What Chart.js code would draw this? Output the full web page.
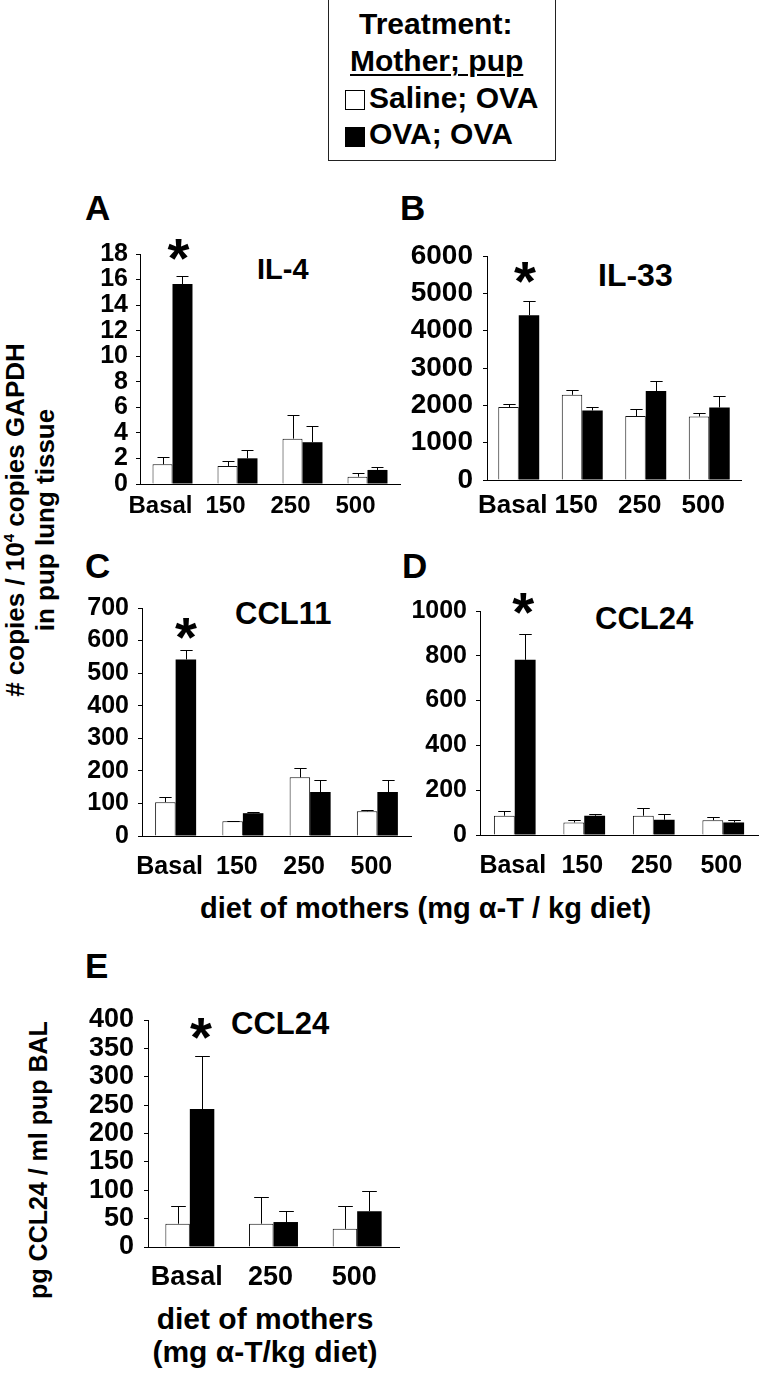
<!DOCTYPE html>
<html><head><meta charset="utf-8">
<script src="https://cdn.jsdelivr.net/npm/chart.js@4.4.1/dist/chart.umd.min.js"></script>
<style>
html,body{margin:0;padding:0;background:#fff;}
body{width:759px;height:1387px;position:relative;overflow:hidden;font-family:"Liberation Sans",Arial,sans-serif;font-weight:bold;color:#000;}
.t{position:absolute;white-space:nowrap;line-height:1;}
.rot{position:absolute;white-space:nowrap;text-align:center;transform:translate(-50%,-50%) rotate(-90deg);}
.sup{font-size:15px;position:relative;top:-10px;}
#legend{position:absolute;left:328px;top:-1px;width:228px;height:162px;border:1px solid #222;box-sizing:border-box;}
.sq{position:absolute;width:20px;height:20px;box-sizing:border-box;border:1px solid #000;}
</style></head>
<body>
<div id="legend"></div>
<div class="t" style="left:359px;top:9px;font-size:30px;">Treatment:</div>
<div class="t" style="left:350px;top:46px;font-size:30px;text-decoration:underline;text-decoration-thickness:2px;text-underline-offset:3px;">Mother; pup</div>
<div class="sq" style="left:345px;top:90px;background:#fff;"></div>
<div class="t" style="left:369px;top:83px;font-size:30px;">Saline; OVA</div>
<div class="sq" style="left:345px;top:127px;background:#000;"></div>
<div class="t" style="left:369px;top:119px;font-size:30px;">OVA; OVA</div>

<div class="t" style="left:85px;top:190px;font-size:35px;">A</div>
<div class="t" style="left:400px;top:190px;font-size:35px;">B</div>
<div class="t" style="left:85px;top:548px;font-size:35px;">C</div>
<div class="t" style="left:402px;top:548px;font-size:35px;">D</div>
<div class="t" style="left:85px;top:948px;font-size:35px;">E</div>

<div class="t" style="left:257px;top:255px;font-size:29px;">IL-4</div>
<div class="t" style="left:598px;top:259px;font-size:32px;">IL-33</div>
<div class="t" style="left:235px;top:598px;font-size:31px;">CCL11</div>
<div class="t" style="left:595px;top:603px;font-size:31px;">CCL24</div>
<div class="t" style="left:231px;top:1008px;font-size:31px;">CCL24</div>

<div class="t" style="left:200px;top:894px;font-size:29px;">diet of mothers (mg α-T / kg diet)</div>
<div class="rot" style="left:30px;top:520px;font-size:26px;line-height:27px;"># copies / 10<span class="sup">4</span> copies GAPDH<br>in pup lung tissue</div>
<div class="rot" style="left:38px;top:1160px;font-size:25px;line-height:27px;">pg CCL24 / ml pup BAL</div>
<div class="t" style="left:265px;top:1304px;font-size:30px;transform:translateX(-50%);">diet of mothers</div>
<div class="t" style="left:265px;top:1337px;font-size:30px;transform:translateX(-50%);">(mg α-T/kg diet)</div>

<script>
// ---------- data ----------
const categories  = ['Basal', '150', '250', '500'];
const categoriesE = ['Basal', '250', '500'];
const seriesNames = ['Saline; OVA', 'OVA; OVA'];

// A: IL-4
const il4Saline    = [1.54, 1.41, 3.55, 0.57];
const il4SalineErr = [0.55, 0.42, 1.85, 0.32];
const il4Ova       = [15.65, 2.01, 3.27, 1.10];
const il4OvaErr    = [0.65, 0.65, 1.25, 0.26];
// B: IL-33
const il33Saline    = [1953, 2282, 1712, 1702];
const il33SalineErr = [80, 142, 177, 90];
const il33Ova       = [4414, 1862, 2381, 1942];
const il33OvaErr    = [391, 91, 284, 305];
// C: CCL11
const ccl11Saline    = [104, 45, 180, 76];
const ccl11SalineErr = [15, 2, 29, 5];
const ccl11Ova       = [542, 70, 135, 135];
const ccl11OvaErr    = [30, 4, 37, 37];
// D: CCL24 (lung)
const ccl24Saline    = [86, 56, 86, 66];
const ccl24SalineErr = [22, 10, 35, 15];
const ccl24Ova       = [782, 86, 68, 56];
const ccl24OvaErr    = [117, 7, 25, 10];
// E: CCL24 (BAL)
const balSaline    = [41, 41, 32];
const balSalineErr = [32, 47, 41];
const balOva       = [243, 44, 63];
const balOvaErr    = [94, 19, 36];

// axis ranges / ticks
const yMaxA = 18,   yStepA = 2;
const yMaxB = 6000, yStepB = 1000;
const yMaxC = 700,  yStepC = 100;
const yMaxD = 1000, yStepD = 200;
const yMaxE = 400,  yStepE = 50;

// ---------- plugin: error bars + significance star ----------
const errPlugin = {
  id: 'errs',
  afterDatasetsDraw(chart, args, opts) {
    const ctx = chart.ctx, ys = chart.scales.y;
    ctx.save();
    ctx.strokeStyle = '#000'; ctx.lineWidth = 1;
    chart.data.datasets.forEach((ds, di) => {
      const meta = chart.getDatasetMeta(di);
      meta.data.forEach((bar, i) => {
        const top = ys.getPixelForValue(ds.data[i] + ds.errorBars[i]);
        const x = Math.round(bar.x) + 0.5;
        const cap = bar.width * 0.3;
        const t = Math.round(top) + 0.5;
        ctx.beginPath();
        ctx.moveTo(x, bar.y); ctx.lineTo(x, t);
        ctx.moveTo(x - cap, t); ctx.lineTo(x + cap, t);
        ctx.stroke();
      });
    });
    const ds = chart.data.datasets[opts.starDataset];
    const bar = chart.getDatasetMeta(opts.starDataset).data[opts.starIndex];
    const top = ys.getPixelForValue(ds.data[opts.starIndex] + ds.errorBars[opts.starIndex]);
    ctx.fillStyle = '#000';
    ctx.font = 'bold 100px "Liberation Sans", Arial';
    let m = ctx.measureText('*');
    const inkW = m.actualBoundingBoxLeft + m.actualBoundingBoxRight;
    const fs = 100 * opts.starSize / inkW;
    ctx.font = 'bold ' + fs + 'px "Liberation Sans", Arial';
    ctx.textAlign = 'center'; ctx.textBaseline = 'alphabetic';
    m = ctx.measureText('*');
    const yb = top - opts.starGap - m.actualBoundingBoxDescent;
    ctx.fillText('*', bar.x + opts.starDx, yb);
    ctx.restore();
  }
};

const PAD_TOP = 30, PAD_RIGHT = 4, Y_W = 100, X_H = 70;

function makePanel(p) {
  const c = document.createElement('canvas');
  const w = p.right - p.axisX + Y_W + PAD_RIGHT;
  const h = p.bottom - p.top + PAD_TOP + X_H;
  c.width = w; c.height = h;
  c.style.cssText = 'position:absolute;left:' + (p.axisX - Y_W) + 'px;top:' + (p.top - PAD_TOP) + 'px;width:' + w + 'px;height:' + h + 'px;';
  document.body.appendChild(c);
  const fam = '"Liberation Sans", Arial, sans-serif';
  new Chart(c, {
    type: 'bar',
    data: {
      labels: p.labels,
      datasets: [
        { label: seriesNames[0], data: p.saline, errorBars: p.salineErr, backgroundColor: '#fff', borderColor: '#111', borderWidth: 1, borderSkipped: 'bottom' },
        { label: seriesNames[1], data: p.ova, errorBars: p.ovaErr, backgroundColor: '#000', borderColor: '#000', borderWidth: 0 }
      ]
    },
    options: {
      responsive: false, animation: false, devicePixelRatio: 1,
      layout: { padding: { top: PAD_TOP, right: PAD_RIGHT, left: 0, bottom: 0 } },
      datasets: { bar: { categoryPercentage: p.catPct, barPercentage: 1 } },
      plugins: {
        legend: { display: false }, tooltip: { enabled: false },
        errs: { starDataset: 1, starIndex: 0, starGap: p.starGap, starSize: 22, starDx: p.starDx }
      },
      scales: {
        x: {
          grid: { display: false, drawTicks: false },
          border: { display: true, color: '#000', width: 1 },
          ticks: { color: '#000', font: { family: fam, weight: 'bold', size: p.xFont }, padding: p.xPad, labelOffset: p.labelOffset, maxRotation: 0, autoSkip: false },
          afterFit: s => { s.height = X_H; }
        },
        y: {
          min: 0, max: p.yMax,
          grid: { display: true, drawOnChartArea: false, drawTicks: true, tickLength: 4, color: '#000', lineWidth: 1 },
          border: { display: true, color: '#000', width: 1 },
          ticks: { stepSize: p.yStep, autoSkip: false, color: '#000', font: { family: fam, weight: 'bold', size: p.yFont }, padding: p.yPad, callback: v => String(v) },
          afterFit: s => { s.width = Y_W; }
        }
      }
    },
    plugins: [errPlugin]
  });
}

makePanel({ labels: categories, saline: il4Saline, salineErr: il4SalineErr, ova: il4Ova, ovaErr: il4OvaErr,
  yMax: yMaxA, yStep: yStepA, axisX: 140, right: 400, top: 254, bottom: 484, catPct: 0.615,
  xFont: 24, yFont: 25, xPad: 8, yPad: 8, labelOffset: -12, starGap: 16, starDx: -4 });
makePanel({ labels: categories, saline: il33Saline, salineErr: il33SalineErr, ova: il33Ova, ovaErr: il33OvaErr,
  yMax: yMaxB, yStep: yStepB, axisX: 487, right: 741, top: 256, bottom: 480, catPct: 0.645,
  xFont: 26, yFont: 28, xPad: 10, yPad: 10, labelOffset: -6, starGap: 18, starDx: -4 });
makePanel({ labels: categories, saline: ccl11Saline, salineErr: ccl11SalineErr, ova: ccl11Ova, ovaErr: ccl11OvaErr,
  yMax: yMaxC, yStep: yStepC, axisX: 142, right: 411, top: 608, bottom: 836, catPct: 0.61,
  xFont: 25, yFont: 25, xPad: 16, yPad: 9, labelOffset: -6, starGap: 11, starDx: 0 });
makePanel({ labels: categories, saline: ccl24Saline, salineErr: ccl24SalineErr, ova: ccl24Ova, ovaErr: ccl24OvaErr,
  yMax: yMaxD, yStep: yStepD, axisX: 480, right: 758, top: 611, bottom: 835, catPct: 0.6,
  xFont: 25, yFont: 25, xPad: 16, yPad: 9, labelOffset: -2, starGap: 20, starDx: -2 });
makePanel({ labels: categoriesE, saline: balSaline, salineErr: balSalineErr, ova: balOva, ovaErr: balOvaErr,
  yMax: yMaxE, yStep: yStepE, axisX: 148, right: 399, top: 1020, bottom: 1247, catPct: 0.585,
  xFont: 27, yFont: 27, xPad: 14, yPad: 10, labelOffset: -3, starGap: 17, starDx: -1 });
</script>
</body></html>
